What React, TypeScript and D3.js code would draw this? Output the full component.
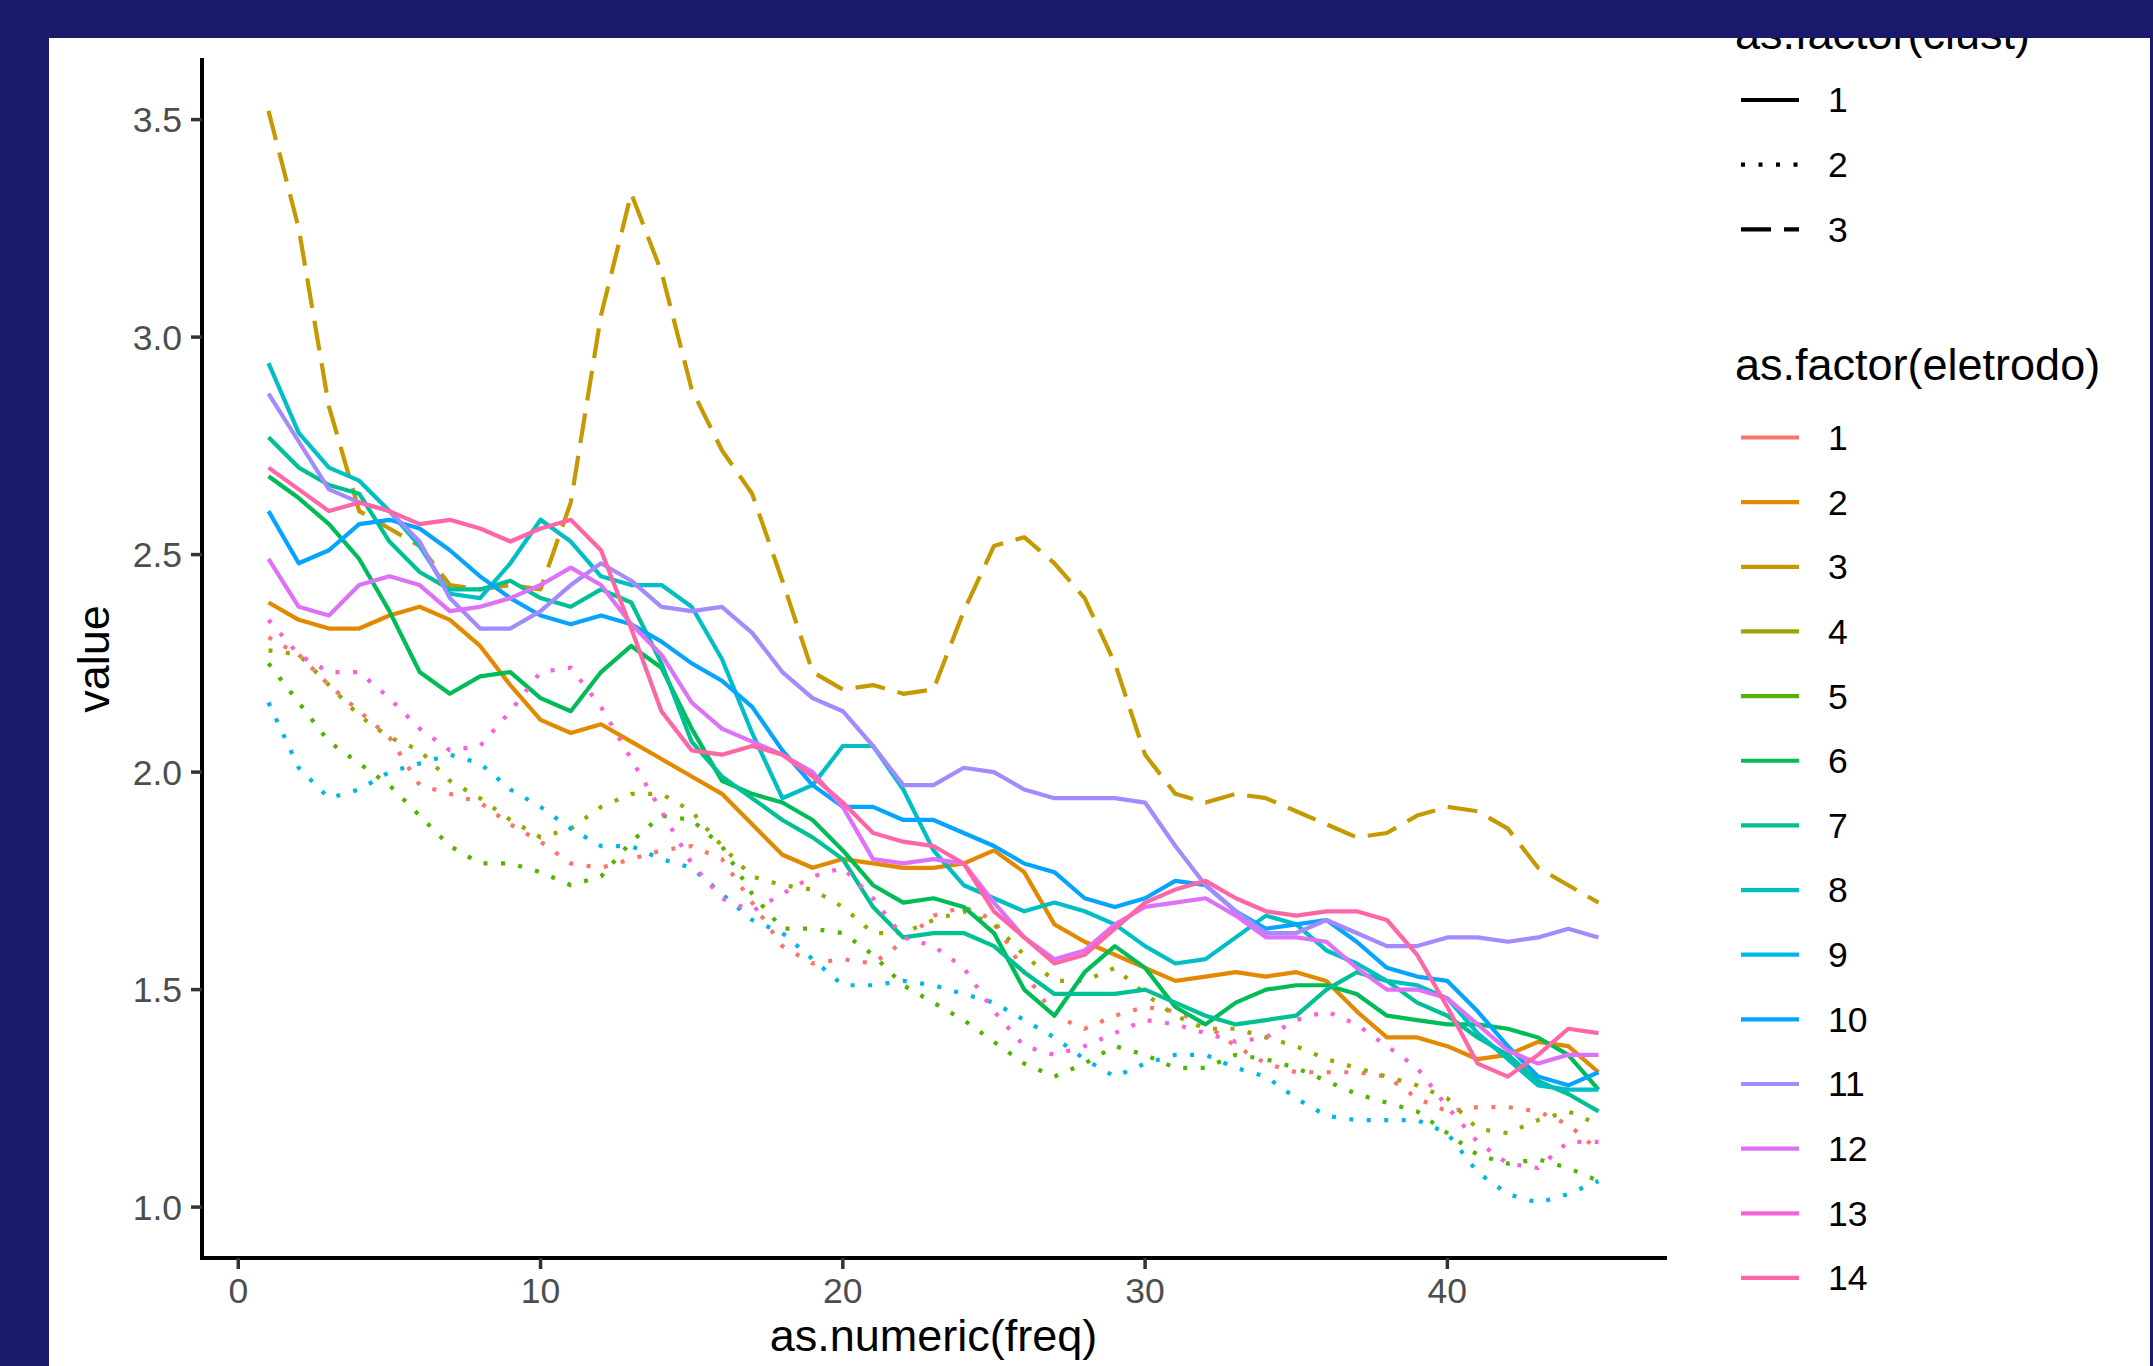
import React from "react";
import * as d3 from "d3";

// frequencies on the x axis
const FREQ = [1, 2, 3, 4, 5, 6, 7, 8, 9, 10, 11, 12, 13, 14, 15, 16, 17, 18, 19, 20, 21, 22, 23, 24, 25, 26, 27, 28, 29, 30, 31, 32, 33, 34, 35, 36, 37, 38, 39, 40, 41, 42, 43, 44, 45];

// one array per eletrodo
const E1 = [2.31, 2.27, 2.20, 2.14, 2.08, 1.97, 1.95, 1.93, 1.88, 1.84, 1.79, 1.78, 1.80, 1.82, 1.83, 1.80, 1.70, 1.60, 1.56, 1.57, 1.56, 1.61, 1.67, 1.69, 1.66, 1.54, 1.44, 1.41, 1.44, 1.46, 1.45, 1.42, 1.37, 1.33, 1.31, 1.31, 1.31, 1.30, 1.25, 1.22, 1.23, 1.23, 1.22, 1.19, 1.13];
const E2 = [2.39, 2.35, 2.33, 2.33, 2.36, 2.38, 2.35, 2.29, 2.20, 2.12, 2.09, 2.11, 2.07, 2.03, 1.99, 1.95, 1.88, 1.81, 1.78, 1.80, 1.79, 1.78, 1.78, 1.79, 1.82, 1.77, 1.65, 1.61, 1.58, 1.55, 1.52, 1.53, 1.54, 1.53, 1.54, 1.52, 1.45, 1.39, 1.39, 1.37, 1.34, 1.35, 1.38, 1.37, 1.31];
const E3 = [3.52, 3.25, 2.84, 2.60, 2.56, 2.52, 2.43, 2.42, 2.43, 2.42, 2.62, 3.05, 3.33, 3.15, 2.88, 2.74, 2.64, 2.44, 2.23, 2.19, 2.20, 2.18, 2.19, 2.37, 2.52, 2.54, 2.48, 2.40, 2.25, 2.04, 1.95, 1.93, 1.95, 1.94, 1.91, 1.88, 1.85, 1.86, 1.90, 1.92, 1.91, 1.87, 1.78, 1.74, 1.70];
const E4 = [2.28, 2.27, 2.20, 2.13, 2.08, 2.05, 1.98, 1.94, 1.89, 1.85, 1.87, 1.92, 1.95, 1.95, 1.91, 1.83, 1.76, 1.74, 1.73, 1.69, 1.63, 1.63, 1.66, 1.68, 1.65, 1.58, 1.52, 1.52, 1.55, 1.49, 1.44, 1.41, 1.41, 1.39, 1.37, 1.34, 1.32, 1.30, 1.28, 1.25, 1.18, 1.17, 1.20, 1.22, 1.19];
const E5 = [2.25, 2.16, 2.07, 2.02, 1.97, 1.90, 1.83, 1.79, 1.79, 1.77, 1.74, 1.76, 1.84, 1.90, 1.89, 1.83, 1.72, 1.64, 1.64, 1.63, 1.58, 1.51, 1.47, 1.43, 1.38, 1.33, 1.30, 1.33, 1.37, 1.35, 1.32, 1.32, 1.35, 1.34, 1.32, 1.29, 1.26, 1.24, 1.22, 1.17, 1.12, 1.10, 1.11, 1.09, 1.06];
const E6 = [2.68, 2.63, 2.57, 2.49, 2.37, 2.23, 2.18, 2.22, 2.23, 2.17, 2.14, 2.23, 2.29, 2.24, 2.10, 1.98, 1.95, 1.93, 1.89, 1.82, 1.74, 1.70, 1.71, 1.69, 1.63, 1.50, 1.44, 1.54, 1.60, 1.55, 1.46, 1.42, 1.47, 1.50, 1.51, 1.51, 1.49, 1.44, 1.43, 1.42, 1.42, 1.41, 1.39, 1.35, 1.27];
const E7 = [2.77, 2.70, 2.66, 2.64, 2.53, 2.46, 2.42, 2.42, 2.44, 2.40, 2.38, 2.42, 2.39, 2.25, 2.07, 1.99, 1.94, 1.89, 1.85, 1.80, 1.69, 1.62, 1.63, 1.63, 1.60, 1.54, 1.49, 1.49, 1.49, 1.50, 1.47, 1.44, 1.42, 1.43, 1.44, 1.50, 1.54, 1.52, 1.47, 1.44, 1.39, 1.35, 1.29, 1.26, 1.22];
const E8 = [2.94, 2.78, 2.70, 2.67, 2.60, 2.52, 2.41, 2.40, 2.48, 2.58, 2.53, 2.45, 2.43, 2.43, 2.38, 2.26, 2.09, 1.94, 1.97, 2.06, 2.06, 1.96, 1.82, 1.74, 1.71, 1.68, 1.70, 1.68, 1.65, 1.60, 1.56, 1.57, 1.62, 1.67, 1.65, 1.59, 1.56, 1.52, 1.51, 1.48, 1.40, 1.34, 1.28, 1.27, 1.27];
const E9 = [2.16, 2.01, 1.94, 1.96, 2.00, 2.02, 2.04, 2.02, 1.96, 1.92, 1.87, 1.83, 1.83, 1.80, 1.78, 1.72, 1.66, 1.63, 1.57, 1.51, 1.51, 1.52, 1.51, 1.49, 1.47, 1.43, 1.39, 1.34, 1.30, 1.33, 1.35, 1.35, 1.32, 1.30, 1.25, 1.21, 1.20, 1.20, 1.20, 1.17, 1.08, 1.03, 1.01, 1.03, 1.06];
const E10 = [2.60, 2.48, 2.51, 2.57, 2.58, 2.56, 2.51, 2.45, 2.40, 2.36, 2.34, 2.36, 2.34, 2.30, 2.25, 2.21, 2.15, 2.05, 1.97, 1.92, 1.92, 1.89, 1.89, 1.86, 1.83, 1.79, 1.77, 1.71, 1.69, 1.71, 1.75, 1.74, 1.68, 1.64, 1.65, 1.66, 1.61, 1.55, 1.53, 1.52, 1.45, 1.37, 1.30, 1.28, 1.31];
const E11 = [2.87, 2.76, 2.65, 2.62, 2.60, 2.53, 2.40, 2.33, 2.33, 2.37, 2.43, 2.48, 2.44, 2.38, 2.37, 2.38, 2.32, 2.23, 2.17, 2.14, 2.06, 1.97, 1.97, 2.01, 2.00, 1.96, 1.94, 1.94, 1.94, 1.93, 1.83, 1.74, 1.68, 1.63, 1.63, 1.66, 1.63, 1.60, 1.60, 1.62, 1.62, 1.61, 1.62, 1.64, 1.62];
const E12 = [2.49, 2.38, 2.36, 2.43, 2.45, 2.43, 2.37, 2.38, 2.40, 2.43, 2.47, 2.43, 2.34, 2.27, 2.16, 2.10, 2.07, 2.04, 2.00, 1.92, 1.80, 1.79, 1.80, 1.79, 1.70, 1.62, 1.57, 1.59, 1.65, 1.69, 1.70, 1.71, 1.67, 1.62, 1.62, 1.61, 1.55, 1.50, 1.50, 1.48, 1.42, 1.36, 1.33, 1.35, 1.35];
const E13 = [2.35, 2.27, 2.23, 2.23, 2.17, 2.10, 2.05, 2.06, 2.14, 2.23, 2.24, 2.15, 2.03, 1.91, 1.79, 1.71, 1.68, 1.72, 1.76, 1.78, 1.71, 1.62, 1.60, 1.55, 1.45, 1.37, 1.35, 1.37, 1.40, 1.43, 1.42, 1.40, 1.38, 1.39, 1.43, 1.45, 1.42, 1.37, 1.32, 1.23, 1.15, 1.10, 1.09, 1.15, 1.15];
const E14 = [2.70, 2.65, 2.60, 2.62, 2.60, 2.57, 2.58, 2.56, 2.53, 2.56, 2.58, 2.51, 2.33, 2.14, 2.05, 2.04, 2.06, 2.04, 1.99, 1.93, 1.86, 1.84, 1.83, 1.79, 1.68, 1.62, 1.56, 1.58, 1.64, 1.70, 1.73, 1.75, 1.71, 1.68, 1.67, 1.68, 1.68, 1.66, 1.58, 1.46, 1.33, 1.30, 1.35, 1.41, 1.40];

const SERIES = [E1, E2, E3, E4, E5, E6, E7, E8, E9, E10, E11, E12, E13, E14];
const ELETRODO = ["1", "2", "3", "4", "5", "6", "7", "8", "9", "10", "11", "12", "13", "14"];
// cluster of each eletrodo (line type)
const CLUST = [2, 1, 3, 2, 2, 1, 1, 1, 2, 1, 1, 1, 2, 1];
const CLUST_LEVELS = ["1", "2", "3"];

const X_TICKS = [0, 10, 20, 30, 40];
const Y_TICKS = [1.0, 1.5, 2.0, 2.5, 3.0, 3.5];

// ggplot hue palette, 14 levels
const COLORS = ["#F8766D", "#E38900", "#C49A00", "#99A800", "#53B400", "#00BC56", "#00C094", "#00BFC4", "#00B6EB", "#06A4FF", "#A58AFF", "#DF70F8", "#FB61D7", "#FF66A8"];
const DASH = { "1": undefined, "2": "4 13.5", "3": "30 13" } as Record<string, string | undefined>;

const W = 2153;
const H = 1366;
const FONT = "'Liberation Sans', Arial, Helvetica, sans-serif";

export default function App() {
  const left = 202, right = 1665, top = 60, bottom = 1258;
  const x = d3.scaleLinear().domain([-1.2, 47.2]).range([left, right]);
  const y = d3.scaleLinear().domain([0.883, 3.637]).range([bottom, top]);
  const fmt = d3.format(".1f");

  const line = d3.line<number>()
    .x((_, i) => x(FREQ[i]))
    .y(d => y(d));

  const lw = 4.2;
  const legX = 1741, legKey = 58, legLabel = 1828, legStep = 64.65;
  const titleSize = 45, textSize = 35.5;

  return (
    <div style={{ position: "absolute", left: 0, top: 0 }}>
      <svg width={W} height={H} style={{ display: "block" }} fontFamily={FONT}>
        <defs>
          <clipPath id="page">
            <rect x={49} y={38} width={2101} height={H - 38} />
          </clipPath>
        </defs>
        <rect width={W} height={H} fill="#1a196c" />
        <rect x={49} y={38} width={2101} height={H - 38} fill="#ffffff" />
        <g clipPath="url(#page)">
          {/* data lines */}
          <g fill="none" strokeWidth={lw} strokeLinejoin="round">
            {SERIES.map((s, i) => (
              <path key={i} d={line(s) || ""} stroke={COLORS[i]}
                strokeDasharray={DASH[String(CLUST[i])]} />
            ))}
          </g>

          {/* axes */}
          <line x1={left} x2={left} y1={top} y2={bottom} stroke="#000" strokeWidth={4} strokeLinecap="square" />
          <line x1={left} x2={right} y1={bottom} y2={bottom} stroke="#000" strokeWidth={4} strokeLinecap="square" />
          {Y_TICKS.map(t => (
            <g key={"y" + t}>
              <line x1={left - 11} x2={left} y1={y(t)} y2={y(t)} stroke="#333" strokeWidth={3.5} />
              <text x={182} y={y(t)} dy="0.35em" textAnchor="end" fontSize={textSize} fill="#4D4D4D">{fmt(t)}</text>
            </g>
          ))}
          {X_TICKS.map(t => (
            <g key={"x" + t}>
              <line x1={x(t)} x2={x(t)} y1={bottom} y2={bottom + 11} stroke="#333" strokeWidth={3.5} />
              <text x={x(t)} y={1303} textAnchor="middle" fontSize={textSize} fill="#4D4D4D">{t}</text>
            </g>
          ))}
          <text x={(left + right) / 2} y={1351} textAnchor="middle" fontSize={titleSize} fill="#000">as.numeric(freq)</text>
          <text transform={`translate(109, ${(top + bottom) / 2}) rotate(-90)`} textAnchor="middle" fontSize={titleSize} fill="#000">value</text>

          {/* legend: clust */}
          <text x={1735} y={49} fontSize={titleSize} fill="#000">as.factor(clust)</text>
          {CLUST_LEVELS.map((c, i) => {
            const yy = 100 + i * legStep;
            return (
              <g key={"c" + c}>
                <line x1={legX} x2={legX + legKey} y1={yy} y2={yy} stroke="#000" strokeWidth={lw} strokeDasharray={DASH[c]} />
                <text x={legLabel} y={yy} dy="0.35em" fontSize={textSize} fill="#000">{c}</text>
              </g>
            );
          })}

          {/* legend: eletrodo */}
          <text x={1735} y={380} fontSize={titleSize} fill="#000">as.factor(eletrodo)</text>
          {ELETRODO.map((e, i) => {
            const yy = 437.5 + i * legStep;
            return (
              <g key={"e" + e}>
                <line x1={legX} x2={legX + legKey} y1={yy} y2={yy} stroke={COLORS[i]} strokeWidth={lw} />
                <text x={legLabel} y={yy} dy="0.35em" fontSize={textSize} fill="#000">{e}</text>
              </g>
            );
          })}
        </g>
      </svg>
    </div>
  );
}
